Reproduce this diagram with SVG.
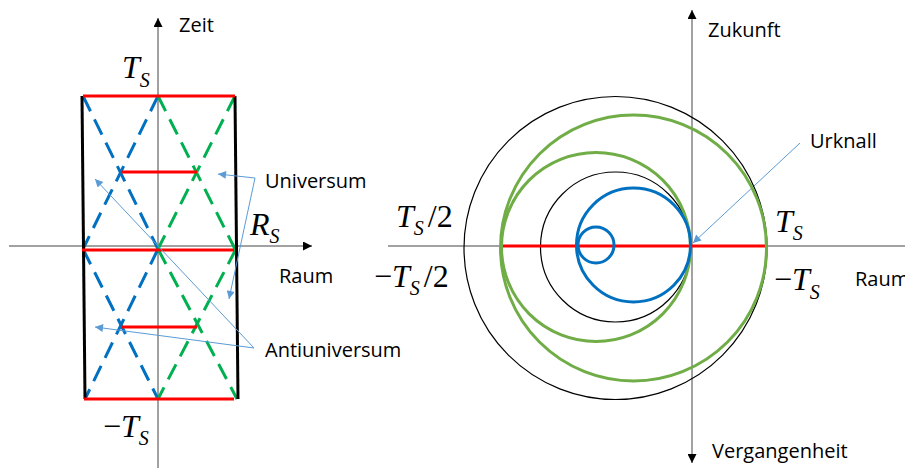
<svg xmlns="http://www.w3.org/2000/svg" width="905" height="468" viewBox="0 0 905 468">
<style>
.axis{stroke:#444;stroke-width:1;fill:none}
.lbl{font-family:"Open Sans","Liberation Sans",sans-serif;font-size:20px;fill:#000}
.m{font-family:"Liberation Serif","Times New Roman",serif;font-style:italic;font-size:32px;fill:#000}
.mu{font-family:"Liberation Serif","Times New Roman",serif;font-size:32px;fill:#000}
.sub{font-family:"Liberation Serif","Times New Roman",serif;font-style:italic;font-size:20px;fill:#000}
.red{stroke:#FF0000;stroke-width:3;fill:none}
.blk{stroke:#000;stroke-width:3;fill:none}
.bd{stroke:#0070C0;stroke-width:3;fill:none;stroke-dasharray:17 9}
.gd{stroke:#00B050;stroke-width:3;fill:none;stroke-dasharray:17 9}
.call{stroke:#5B9BD5;stroke-width:1;fill:none}
.cb{stroke:#000;stroke-width:1.2;fill:none}
.cg{stroke:#70AD47;stroke-width:3;fill:none}
.cbl{stroke:#0070C0;stroke-width:3;fill:none}
</style>
<defs>
<marker id="ax" viewBox="0 0 10 10" refX="10" refY="5" markerWidth="9" markerHeight="9" markerUnits="userSpaceOnUse" orient="auto-start-reverse"><path d="M0,0 L10,5 L0,10 z" fill="#000"/></marker>
<marker id="ca" viewBox="0 0 10 10" refX="10" refY="5" markerWidth="10" markerHeight="8" markerUnits="userSpaceOnUse" orient="auto-start-reverse"><path d="M0,0 L10,5 L0,10 z" fill="#5B9BD5"/></marker>
</defs>

<g id="left-diagram">
  <g id="left-axes">
    <line class="axis" x1="158" y1="468" x2="158" y2="18" marker-end="url(#ax)"/>
    <line class="axis" x1="9" y1="246" x2="312" y2="246" marker-end="url(#ax)"/>
  </g>
  <g id="light-lines">
    <line class="bd" x1="83" y1="96" x2="158" y2="249"/>
    <line class="bd" x1="158" y1="96" x2="83" y2="249"/>
    <line class="bd" x1="83" y1="249" x2="158" y2="399"/>
    <line class="bd" x1="158" y1="249" x2="85" y2="399"/>
    <line class="gd" x1="158" y1="96" x2="235" y2="249"/>
    <line class="gd" x1="235" y1="96" x2="158" y2="249"/>
    <line class="gd" x1="158" y1="249" x2="237" y2="399"/>
    <line class="gd" x1="236" y1="249" x2="158" y2="399"/>
  </g>
  <g id="boundary">
    <line class="blk" x1="82" y1="96" x2="85" y2="399"/>
    <line class="blk" x1="235" y1="96" x2="238" y2="399"/>
  </g>
  <g id="slices">
    <line class="red" x1="83" y1="96" x2="235" y2="96"/>
    <line class="red" x1="122" y1="172" x2="197" y2="172"/>
    <line class="red" x1="82" y1="250" x2="234" y2="250"/>
    <line class="red" x1="122" y1="327" x2="197" y2="327"/>
    <line class="red" x1="84" y1="399" x2="234" y2="399"/>
  </g>
  <g id="left-labels">
    <text class="lbl" x="179" y="32">Zeit</text>
    <text class="lbl" x="279" y="283">Raum</text>
    <text x="122" y="78"><tspan class="m">T</tspan><tspan class="sub" dy="9">S</tspan></text>
    <text x="250" y="235"><tspan class="m" font-size="33">R</tspan><tspan class="sub" dy="8">S</tspan></text>
    <text x="103" y="437"><tspan class="mu">−</tspan><tspan class="m">T</tspan><tspan class="sub" dy="8">S</tspan></text>
  </g>
  <g id="universum">
    <text class="lbl" x="265" y="188">Universum</text>
  </g>
  <g id="antiuniversum">
    <text class="lbl" x="265" y="357">Antiuniversum</text>
  </g>
</g>

<g id="connectors">
  <path class="call" d="M218,174 L255,178 L229,299" marker-start="url(#ca)" marker-end="url(#ca)"/>
  <path class="call" d="M95,179 L254,348 L95,327" marker-start="url(#ca)" marker-end="url(#ca)"/>
  <line class="call" x1="800" y1="143" x2="693" y2="243" marker-end="url(#ca)"/>
</g>

<g id="right-diagram">
  <g id="right-axes">
    <line class="axis" x1="692" y1="240" x2="692" y2="10" marker-end="url(#ax)"/>
    <line class="axis" x1="692" y1="240" x2="692" y2="463" marker-end="url(#ax)"/>
    <line class="axis" x1="388" y1="246" x2="905" y2="246"/>
  </g>
  <g id="circles">
    <circle class="cb" cx="615.5" cy="248" r="151.5"/>
    <circle class="cb" cx="615.5" cy="247" r="75"/>
    <line class="red" x1="500" y1="246" x2="766" y2="246"/>
    <circle class="cg" cx="633.5" cy="248" r="133"/>
    <circle class="cg" cx="596" cy="247" r="94.5"/>
    <circle class="cbl" cx="633.5" cy="245" r="57"/>
    <circle class="cbl" cx="596" cy="245" r="18"/>
  </g>
  <g id="right-labels">
    <text class="lbl" x="708" y="37">Zukunft</text>
    <text class="lbl" x="712" y="458">Vergangenheit</text>
    <text class="lbl" x="855" y="286">Raum</text>
    <text x="396" y="227"><tspan class="m">T</tspan><tspan class="sub" dy="8">S</tspan><tspan class="mu" dx="4" dy="-8">/2</tspan></text>
    <text x="374" y="287"><tspan class="mu">−</tspan><tspan class="m">T</tspan><tspan class="sub" dy="8">S</tspan><tspan class="mu" dx="4" dy="-8">/2</tspan></text>
    <text x="775" y="232"><tspan class="m">T</tspan><tspan class="sub" dy="8">S</tspan></text>
    <text x="774" y="290"><tspan class="mu">−</tspan><tspan class="m">T</tspan><tspan class="sub" dy="9">S</tspan></text>
  </g>
  <g id="urknall">
    <text class="lbl" x="810" y="148">Urknall</text>
  </g>
</g>
</svg>
